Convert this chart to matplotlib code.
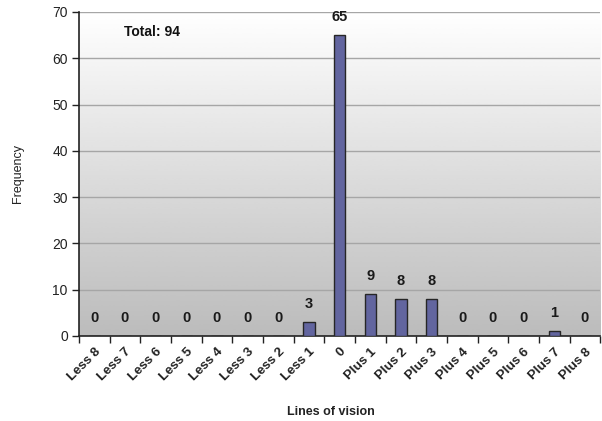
import numpy as np
import matplotlib
matplotlib.use("Agg")
import matplotlib.pyplot as plt

categories = ["Less 8", "Less 7", "Less 6", "Less 5", "Less 4", "Less 3", "Less 2", "Less 1",
              "0", "Plus 1", "Plus 2", "Plus 3", "Plus 4", "Plus 5", "Plus 6", "Plus 7", "Plus 8"]
frequency = [0, 0, 0, 0, 0, 0, 0, 3, 65, 9, 8, 8, 0, 0, 0, 1, 0]
total_label = "Total: 94"

plt.rcParams["font.family"] = ["Liberation Sans", "DejaVu Sans"]

fig = plt.figure(figsize=(6.02, 4.21), dpi=100)
ax = fig.add_axes([0.131, 0.202, 0.866, 0.7695])

x = np.arange(len(categories))
ax.set_xlim(-0.5, len(categories) - 0.5)
ax.set_ylim(0, 70)

# vertical white-to-grey gradient behind the plot
grad = np.linspace(1.0, 0.79, 256).reshape(-1, 1) ** 1.3
ax.imshow(grad, extent=[0, 1, 0, 1], transform=ax.transAxes, cmap="gray",
          vmin=0, vmax=1, aspect="auto", zorder=0, interpolation="bicubic")

for yv in range(10, 71, 10):
    ax.axhline(yv, color="#a6a6a6", lw=1.0, zorder=1)

ax.bar(x, frequency, width=0.37, color="#62659f", edgecolor="#262626", lw=1.0, zorder=3)

for xi, v in zip(x, frequency):
    ax.annotate(str(v), (xi, v), xytext=(0, 8), textcoords="offset points",
                ha="center", va="bottom", fontsize=10.5, fontweight="bold", color="#1a1a1a")

ax.text(1.9, 65.7, total_label, ha="center", va="center", fontsize=10,
        fontweight="bold", color="#111111")

# category labels, with tick marks on the category boundaries
ax.set_xticks(x)
ax.set_xticklabels(categories, rotation=45, ha="right", va="top",
                   rotation_mode="anchor", fontsize=9.5, fontweight="bold", color="#222222")
ax.tick_params(axis="x", length=0, pad=7)
ax.set_xticks(np.arange(-0.5, len(categories)), minor=True)
ax.tick_params(axis="x", which="minor", length=5, width=1, color="#222222")

ax.set_yticks(range(0, 71, 10))
ax.tick_params(axis="y", length=5, width=1, color="#222222", labelsize=10,
               labelcolor="#222222", pad=3)

for s in ["top", "right"]:
    ax.spines[s].set_visible(False)
for s in ["left", "bottom"]:
    ax.spines[s].set_color("#222222")
    ax.spines[s].set_linewidth(1.2)

ax.set_ylabel("Frequency", fontsize=9, color="#222222", labelpad=20)
ax.set_xlabel("Lines of vision", fontsize=9, fontweight="bold", color="#222222", labelpad=8)
ax.xaxis.set_label_coords(0.483, -0.215)

fig.savefig("out.png", dpi=100, facecolor="white")
